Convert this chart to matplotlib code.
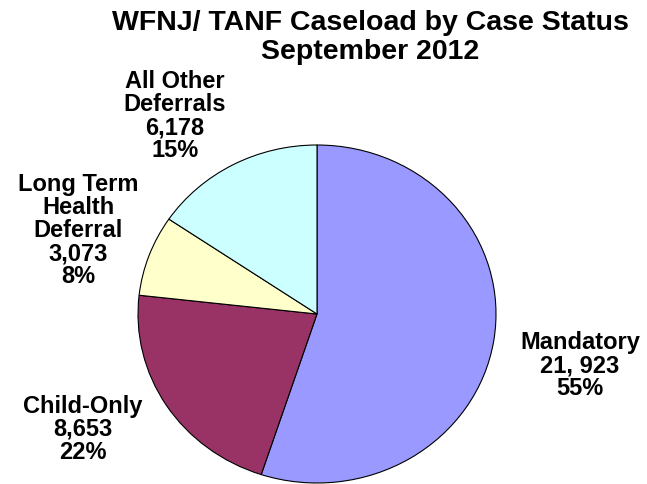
import matplotlib
matplotlib.use("Agg")
import matplotlib.pyplot as plt

# WFNJ / TANF caseload, September 2012
categories = ['Mandatory', 'Child-Only', 'Long Term\nHealth\nDeferral', 'All Other\nDeferrals']
caseload = [21923, 8653, 3073, 6178]
count_labels = ['21, 923', '8,653', '3,073', '6,178']
pct_labels = ['55%', '22%', '8%', '15%']
colors = ['#9999FF', '#993366', '#FFFFCC', '#CCFFFF']
title_lines = ['WFNJ/ TANF Caseload by Case Status', 'September 2012']

W, H = 647, 485
plt.rcParams['font.family'] = ['Liberation Sans', 'DejaVu Sans']
fig = plt.figure(figsize=(W / 100, H / 100), dpi=100)

# pie is slightly wider than tall in the original
cx, cy, rx, ry = 317, 315, 179, 169
ax = fig.add_axes([(cx - rx) / W, (H - cy - ry) / H, 2 * rx / W, 2 * ry / H])
ax.pie(caseload, colors=colors, startangle=90, counterclock=False,
       wedgeprops=dict(edgecolor='black', linewidth=0.8))
ax.set_aspect('auto')
ax.set_xlim(-1, 1)
ax.set_ylim(-1, 1)
ax.axis('off')

# (centre x, first baseline y) in pixels
label_pos = [(580, 349), (83, 413), (78, 191), (175, 88)]
pitch = 23
for name, cnt, pct, (px, py) in zip(categories, count_labels, pct_labels, label_pos):
    lines = name.split('\n') + [cnt, pct]
    for i, ln in enumerate(lines):
        fig.text(px / W, 1 - (py + i * pitch) / H, ln, ha='center', va='baseline',
                 fontsize=17, fontweight='bold')

for ln, by in zip(title_lines, [30, 59]):
    fig.text(370 / W, 1 - by / H, ln, ha='center', va='baseline',
             fontsize=20.5, fontweight='bold')

plt.savefig('out.png', dpi=100)
